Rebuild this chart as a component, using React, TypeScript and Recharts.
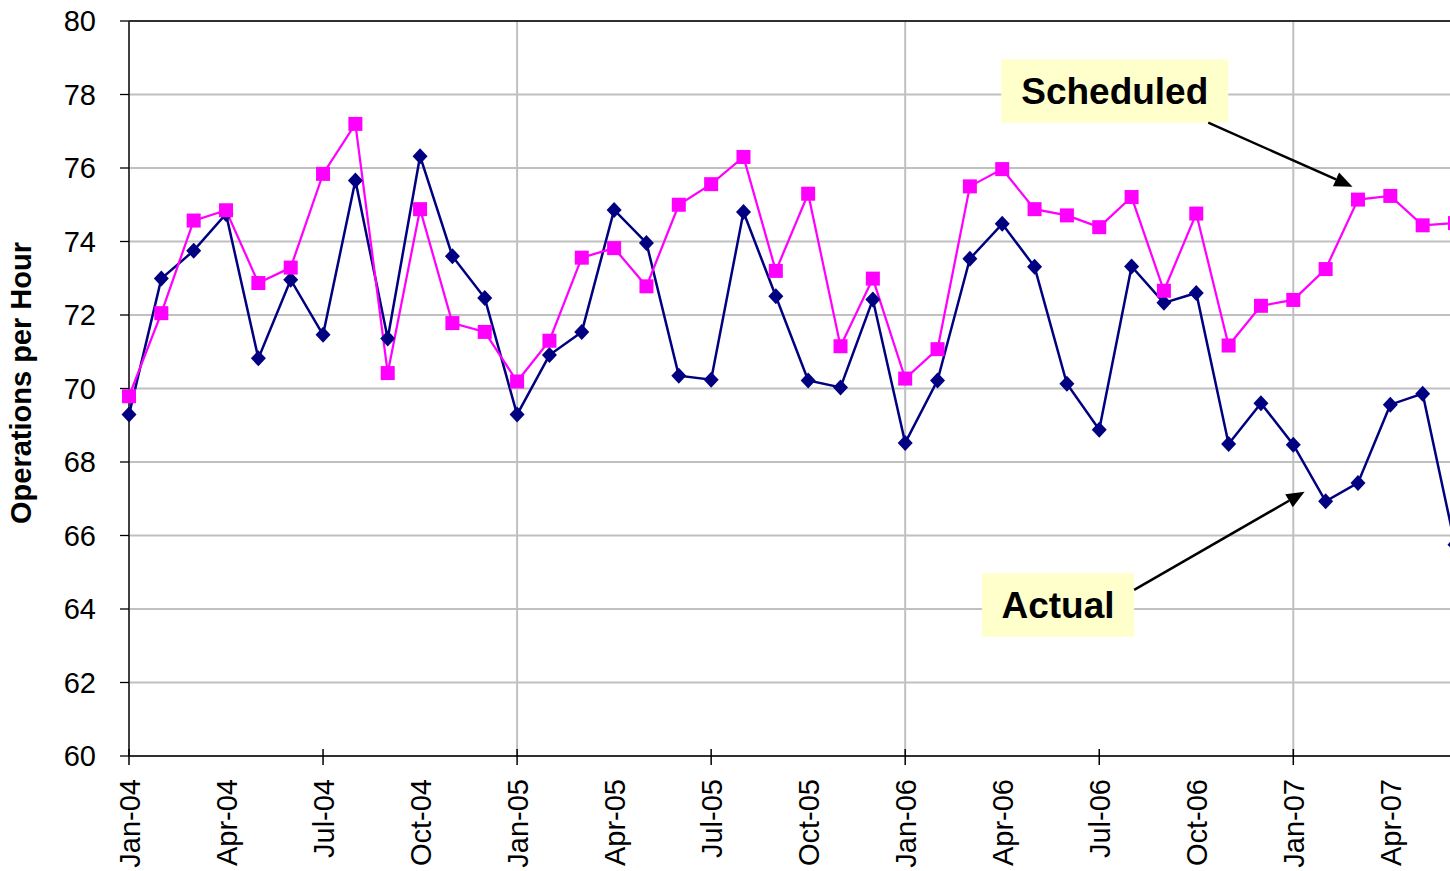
import React from "react";
import { LineChart, Line, XAxis, YAxis, CartesianGrid, ReferenceLine, ReferenceArea, Label } from "recharts";

const MONTHS = [
  "Jan-04", "Feb-04", "Mar-04", "Apr-04", "May-04", "Jun-04", "Jul-04", "Aug-04", "Sep-04", "Oct-04", "Nov-04", "Dec-04",
  "Jan-05", "Feb-05", "Mar-05", "Apr-05", "May-05", "Jun-05", "Jul-05", "Aug-05", "Sep-05", "Oct-05", "Nov-05", "Dec-05",
  "Jan-06", "Feb-06", "Mar-06", "Apr-06", "May-06", "Jun-06", "Jul-06", "Aug-06", "Sep-06", "Oct-06", "Nov-06", "Dec-06",
  "Jan-07", "Feb-07", "Mar-07", "Apr-07", "May-07", "Jun-07",
];

const ACTUAL = [
  69.29, 72.99, 73.75, 74.75, 70.82, 72.96, 71.46, 75.66, 71.36, 76.32, 73.6, 72.46,
  69.29, 70.91, 71.54, 74.86, 73.96, 70.35, 70.24, 74.8, 72.51, 70.22, 70.03, 72.42,
  68.52, 70.22, 73.53, 74.48, 73.31, 70.13, 68.88, 73.32, 72.33, 72.6, 68.49, 69.6,
  68.47, 66.93, 67.43, 69.56, 69.86, 65.75,
];

const SCHEDULED = [
  69.79, 72.05, 74.57, 74.85, 72.87, 73.29, 75.84, 77.2, 70.42, 74.88, 71.78, 71.54,
  70.19, 71.3, 73.56, 73.82, 72.78, 75.0, 75.56, 76.3, 73.2, 75.3, 71.15, 72.99,
  70.27, 71.07, 75.5, 75.97, 74.88, 74.71, 74.39, 75.21, 72.66, 74.76, 71.17, 72.25,
  72.41, 73.25, 75.14, 75.24, 74.44, 74.5,
];

const X_TICK_LABELS = [
  "Jan-04", "Apr-04", "Jul-04", "Oct-04", "Jan-05", "Apr-05", "Jul-05", "Oct-05",
  "Jan-06", "Apr-06", "Jul-06", "Oct-06", "Jan-07", "Apr-07",
];
const YEAR_STARTS = ["Jan-05", "Jan-06", "Jan-07"];
const Y_TICKS = [60, 62, 64, 66, 68, 70, 72, 74, 76, 78, 80];

const FONT = "'Liberation Sans', Arial, sans-serif";

const data = MONTHS.map((m, i) => ({ idx: i, month: m, actual: ACTUAL[i], scheduled: SCHEDULED[i] }));
const xTicks = X_TICK_LABELS.map((l) => MONTHS.indexOf(l));
const gridX = YEAR_STARTS.map((l) => MONTHS.indexOf(l));

const XTick = (props: any) => {
  const { x, y, payload } = props;
  const major = payload.value % 6 === 0;
  const tx = x + 11;
  const ty = y + 23;
  return (
    <g>
      {major && <line x1={x} x2={x} y1={y - 7} y2={y + 9} stroke="#000" strokeWidth={1.5} />}
      <text x={tx} y={ty} transform={`rotate(-90, ${tx}, ${ty})`} textAnchor="end" fontSize={29} fontFamily={FONT} fill="#000">
        {MONTHS[payload.value]}
      </text>
    </g>
  );
};

const Diamond = (p: any) => {
  const { cx, cy, index } = p;
  if (cx == null || cy == null) return <g key={`d${index}`} />;
  return <polygon key={`d${index}`} points={`${cx},${cy - 8} ${cx + 7.5},${cy} ${cx},${cy + 8} ${cx - 7.5},${cy}`} fill="#000080" />;
};

const Square = (p: any) => {
  const { cx, cy, index } = p;
  if (cx == null || cy == null) return <g key={`s${index}`} />;
  return <rect key={`s${index}`} x={cx - 7} y={cy - 7} width={14} height={14} fill="#FF00FF" />;
};

const Arrow = (props: any) => {
  const { x1, y1, x2, y2 } = props;
  const ang = Math.atan2(y2 - y1, x2 - x1);
  const len = 18;
  const half = 7.5;
  const bx = x2 - len * Math.cos(ang);
  const by = y2 - len * Math.sin(ang);
  const px = -Math.sin(ang) * half;
  const py = Math.cos(ang) * half;
  return (
    <g>
      <line x1={x1} y1={y1} x2={bx} y2={by} stroke="#000" strokeWidth={2.5} />
      <polygon points={`${x2},${y2} ${bx + px},${by + py} ${bx - px},${by - py}`} fill="#000" />
    </g>
  );
};

const YTitle = () => (
  <text
    x={31}
    y={383}
    transform="rotate(-90, 31, 383)"
    textAnchor="middle"
    fontSize={29}
    fontWeight="bold"
    fontFamily={FONT}
    fill="#000"
  >
    Operations per Hour
  </text>
);

export default function App() {
  return (
    <div style={{ position: "absolute", left: 0, top: 0, width: 1450, height: 871, overflow: "hidden", background: "#fff" }}>
      <LineChart width={1460} height={871} data={data} margin={{ top: 21, right: 5, bottom: 5, left: 59 }}>
        <CartesianGrid stroke="#C0C0C0" strokeWidth={2} verticalValues={gridX} />
        <XAxis
          dataKey="idx"
          type="number"
          domain={[0, 41]}
          ticks={xTicks}
          interval={0}
          height={110}
          tickLine={false}
          tickSize={0}
          tickMargin={0}
          axisLine={{ stroke: "#000", strokeWidth: 1.5 }}
          tick={<XTick />}
        />
        <YAxis
          type="number"
          domain={[60, 80]}
          ticks={Y_TICKS}
          interval={0}
          width={70}
          tickSize={9}
          tickMargin={24}
          tickLine={{ stroke: "#000", strokeWidth: 1.3 }}
          axisLine={{ stroke: "#404040", strokeWidth: 2 }}
          tick={{ fontSize: 29, fill: "#000", fontFamily: FONT }}
        >
          <Label content={<YTitle />} />
        </YAxis>
        <ReferenceLine y={80} stroke="#000" strokeWidth={1.5} />
        <Line
          type="linear"
          dataKey="actual"
          stroke="#000080"
          strokeWidth={2.5}
          dot={Diamond}
          activeDot={false}
          isAnimationActive={false}
        />
        <Line
          type="linear"
          dataKey="scheduled"
          stroke="#FF00FF"
          strokeWidth={2.25}
          dot={Square}
          activeDot={false}
          isAnimationActive={false}
        />
        <ReferenceArea x1={26.97} x2={33.99} y1={77.233} y2={78.958} fill="#FFFFCC" fillOpacity={1} stroke="none">
          <Label value="Scheduled" position="center" fontSize={37} fontWeight="bold" fontFamily={FONT} fill="#000" />
        </ReferenceArea>
        <ReferenceArea x1={26.37} x2={31.08} y1={63.246} y2={64.97} fill="#FFFFCC" fillOpacity={1} stroke="none">
          <Label value="Actual" position="center" fontSize={37} fontWeight="bold" fontFamily={FONT} fill="#000" />
        </ReferenceArea>
        <ReferenceLine segment={[{ x: 33.37, y: 77.233 }, { x: 37.83, y: 75.49 }]} shape={Arrow} />
        <ReferenceLine segment={[{ x: 31.08, y: 64.52 }, { x: 36.35, y: 67.19 }]} shape={Arrow} />
      </LineChart>
    </div>
  );
}
